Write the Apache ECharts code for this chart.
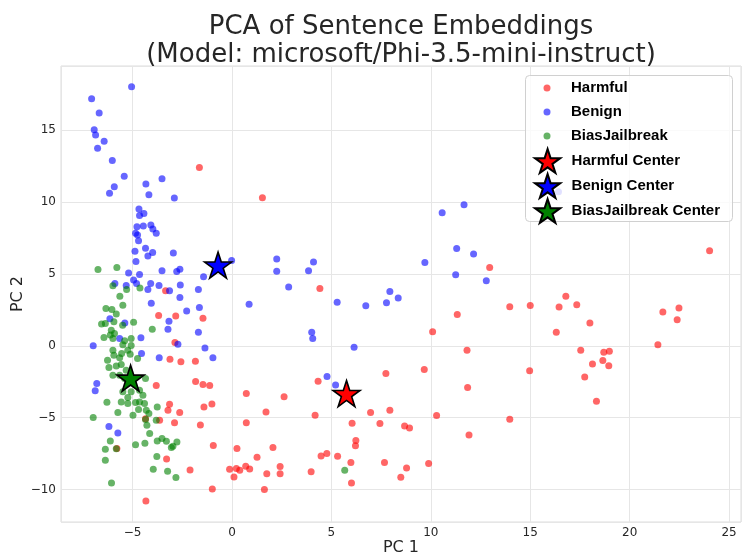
<!DOCTYPE html>
<html>
<head>
<meta charset="utf-8">
<script src="https://cdn.jsdelivr.net/npm/echarts@6/dist/echarts.min.js"></script>
<style>
  html, body { margin: 0; padding: 0; background: #fff; }
  #chart { width: 748px; height: 556px; }
</style>
</head>
<body>
<div id="chart"></div>
<script>
// PCA points, [PC1, PC2]
const harmful = [
  [-1.64, 12.42], [1.53, 10.31], [-3.34, 3.83], [-3.69, 2.12], [-2.83, 2.07], [-1.46, 1.93],
  [-2.87, 0.24], [-3.12, -0.93], [-2.57, -1.11], [-1.84, -1.07], [-3.81, -2.76], [-1.83, -2.48],
  [-1.46, -2.69], [-1.12, -2.76], [0.72, -3.32], [-3.14, -4.06], [-3.22, -4.48], [-2.63, -4.64],
  [-1.41, -4.25], [-1.01, -4.04], [-4.35, -5.08], [-3.64, -5.17], [-2.89, -5.36], [-1.59, -5.5],
  [0.72, -5.36], [-0.94, -6.94], [0.25, -7.15], [-5.79, -7.15], [1.26, -7.75], [-3.29, -7.87],
  [-2.11, -8.64], [-0.12, -8.59], [0.22, -8.54], [0.39, -8.66], [0.69, -8.38], [0.89, -8.57],
  [0.1, -9.12], [-0.99, -9.96], [-4.33, -10.79],
  [4.42, 4.0], [12.96, 5.46], [11.33, 2.19], [10.09, 0.98], [11.82, -0.3],
  [7.74, -1.92], [9.67, -1.64], [4.33, -2.46], [11.85, -2.9], [2.62, -3.55], [1.71, -4.6],
  [4.18, -4.83], [6.97, -4.64], [7.94, -4.48], [10.29, -4.85], [6.04, -5.38], [7.44, -5.41],
  [8.68, -5.57], [8.93, -5.71], [6.23, -6.59], [6.21, -6.96], [11.92, -6.2], [2.06, -7.08],
  [4.48, -7.66], [4.77, -7.49], [5.31, -7.68], [5.98, -8.12], [7.67, -8.12], [9.89, -8.19],
  [2.42, -8.4], [1.75, -8.91], [2.42, -8.91], [3.98, -8.77], [8.78, -8.5], [8.49, -9.14],
  [6.01, -9.54], [1.63, -10.0],
  [24.02, 6.62], [13.97, 2.72], [15.0, 2.81], [16.45, 2.7], [16.79, 3.46], [17.34, 2.86],
  [18.0, 1.6], [16.31, 0.95], [17.54, -0.3], [18.7, -0.44], [18.98, -0.37], [18.65, -1.02],
  [18.13, -1.27], [18.95, -1.39], [17.74, -2.16], [18.33, -3.85], [14.97, -1.74], [13.97, -5.1],
  [21.67, 2.35], [22.48, 2.63], [22.39, 1.81], [21.42, 0.07]
];

const benign = [
  [-5.05, 18.04], [-7.06, 17.2], [-6.68, 16.2], [-6.93, 15.04], [-6.86, 14.67], [-6.43, 14.25],
  [-6.76, 13.75], [-6.02, 12.91], [-5.42, 11.8], [-5.92, 11.07], [-6.16, 10.63], [-4.33, 11.26],
  [-3.52, 11.63], [-4.18, 10.52], [-2.9, 10.29], [-4.68, 9.52], [-4.43, 9.22], [-4.65, 9.08],
  [-4.78, 8.29], [-4.46, 8.34], [-4.08, 8.41], [-3.98, 8.13], [-3.81, 7.83], [-4.85, 7.83],
  [-4.75, 7.71], [-4.7, 7.31], [-4.35, 6.8], [-4.88, 6.59], [-3.99, 6.5], [-4.23, 6.25],
  [-2.95, 6.46], [-4.83, 5.88], [-3.52, 5.22], [-2.78, 5.18], [-2.62, 5.34], [-5.2, 5.08],
  [-4.65, 4.97], [-4.95, 4.58], [-5.89, 4.34], [-5.32, 4.2], [-4.8, 4.34], [-4.09, 4.34],
  [-3.67, 4.2], [-4.23, 3.93], [-3.14, 3.83], [-2.6, 4.23], [-1.43, 4.81], [-0.02, 5.95],
  [-1.69, 3.93], [-2.62, 3.37], [-4.06, 2.97], [-2.28, 2.42], [-1.64, 2.67], [0.86, 2.9],
  [-6.14, 1.88], [-5.39, 1.6], [-3.17, 1.72], [-3.22, 1.16], [-1.69, 0.95], [-5.65, 0.52],
  [-4.58, 0.56], [-6.98, 0.0], [-2.72, 0.12], [-1.36, -0.14], [-4.55, -0.53], [-3.66, -0.83],
  [-0.96, -0.83], [-6.8, -2.62], [-6.88, -3.13], [-6.19, -5.61], [-5.74, -6.06],
  [2.25, 6.04], [2.25, 5.2], [3.85, 5.22], [4.1, 5.83], [2.85, 4.09], [5.29, 3.04],
  [6.73, 2.79], [7.77, 3.0], [7.94, 3.79], [8.36, 3.34], [4.01, 0.95], [4.06, 0.51],
  [6.14, -0.09], [9.7, 5.81], [10.57, 9.26], [11.67, 9.82], [11.3, 6.78], [12.15, 6.39],
  [11.25, 4.95], [12.79, 4.53], [4.78, -2.13], [5.21, -2.72], [16.42, 10.72], [15.75, 9.1]
];

const biasJailbreak = [
  [-6.74, 5.32], [-5.79, 5.46], [-5.99, 4.18], [-5.3, 3.93], [-4.63, 4.02], [-5.64, 3.46],
  [-5.49, 2.83], [-6.34, 2.6], [-6.04, 2.53], [-5.82, 2.21], [-6.56, 1.53], [-6.37, 1.56],
  [-5.94, 1.67], [-5.5, 1.44], [-4.95, 1.65], [-4.01, 1.16], [-6.07, 1.09], [-5.91, 0.86],
  [-6.12, 0.75], [-6.44, 0.58], [-5.99, 0.52], [-5.4, 0.35], [-5.07, 0.52], [-5.49, 0.07],
  [-5.07, 0.03], [-5.24, -0.3], [-5.99, -0.3], [-5.94, -0.65], [-5.12, -0.58], [-5.55, -0.53],
  [-5.65, -0.83], [-4.75, -0.88], [-6.26, -1.0], [-5.57, -1.3], [-6.19, -1.5], [-5.82, -1.41],
  [-5.32, -1.69], [-5.99, -2.04], [-5.65, -2.04], [-5.4, -2.27], [-4.35, -2.27], [-5.49, -3.2],
  [-5.07, -3.2], [-4.65, -3.09], [-4.48, -3.43], [-5.24, -3.6], [-5.57, -3.9], [-5.24, -4.01],
  [-4.85, -3.94], [-4.4, -4.01], [-4.65, -3.9], [-6.29, -3.92], [-5.74, -4.64], [-4.98, -4.83],
  [-4.7, -4.43], [-4.31, -4.48], [-4.18, -4.71], [-3.76, -4.25], [-6.98, -4.99], [-4.35, -5.13],
  [-4.28, -5.52], [-3.81, -5.17], [-4.14, -6.1], [-6.12, -6.62], [-3.76, -6.62], [-3.52, -6.45],
  [-3.3, -6.64], [-2.77, -6.69], [-2.97, -6.98], [-3.05, -7.08], [-4.85, -6.89], [-4.38, -6.78],
  [-6.37, -7.19], [-5.82, -7.17], [-6.37, -7.96], [-3.78, -7.7], [-3.96, -8.59], [-3.24, -8.73],
  [-2.82, -9.16], [-6.06, -9.54], [5.67, -8.66]
];

const harmfulCenter = [[5.76, -3.32]];
const benignCenter = [[-0.7, 5.62]];
const biasJailbreakCenter = [[-5.1, -2.25]];

const starPath = 'path://M50,0 L61.23,34.55 L97.55,34.55 L68.16,55.9 L79.39,90.45 L50,69.1 L20.61,90.45 L31.84,55.9 L2.45,34.55 L38.77,34.55 Z';

const textColor = '#262626';
const minus = v => String(v).replace('-', '\u2212');

const chart = echarts.init(document.getElementById('chart'));

const dotSeries = (name, data, color) => ({
  name: name,
  type: 'scatter',
  data: data,
  symbol: 'circle',
  symbolSize: 7,
  itemStyle: { color: color, opacity: 0.6 },
  emphasis: { disabled: true }
});

const starSeries = (name, data, color) => ({
  name: name,
  type: 'scatter',
  data: data,
  symbol: starPath,
  symbolSize: [27, 26],
  itemStyle: { color: color, borderColor: '#000', borderWidth: 1.6, opacity: 1 },
  emphasis: { disabled: true },
  z: 5
});

const legendFont = {
  fontFamily: 'Liberation Sans, Arial, sans-serif',
  fontWeight: 'bold',
  fontSize: 15,
  color: '#000',
  lineHeight: 18
};

chart.setOption({
  animation: false,
  backgroundColor: '#fff',
  title: {
    text: 'PCA of Sentence Embeddings\n(Model: microsoft/Phi-3.5-mini-instruct)',
    left: 396,
    top: 8,
    textAlign: 'center',
    textStyle: {
      fontFamily: 'DejaVu Sans',
      fontSize: 26,
      fontWeight: 'normal',
      color: textColor,
      lineHeight: 28
    }
  },
  grid: {
    left: 61,
    right: 7,
    top: 66,
    bottom: 34,
    outerBoundsMode: 'none',
    containLabel: false,
    show: true,
    borderColor: '#dcdcdc',
    borderWidth: 1
  },
  graphic: [{
    type: 'rect',
    left: 525,
    top: 75,
    z: 3,
    shape: { width: 207, height: 146, r: 4 },
    style: { fill: 'rgba(255,255,255,0.8)', stroke: '#d0d0d0', lineWidth: 1 }
  }],
  legend: [
    {
      data: ['Harmful', 'Benign', 'BiasJailbreak'],
      orient: 'vertical',
      left: 543.5,
      top: 79,
      padding: 0,
      itemWidth: 7,
      itemHeight: 7,
      itemGap: 6,
      icon: 'circle',
      textStyle: Object.assign({ padding: [0, 0, 0, 15.5] }, legendFont),
      z: 6
    },
    {
      data: ['Harmful Center', 'Benign Center', 'BiasJailbreak Center'],
      orient: 'vertical',
      left: 534,
      top: 148,
      padding: 0,
      itemWidth: 26,
      itemHeight: 24,
      itemGap: -1,
      textStyle: Object.assign({ padding: [0, 0, 0, 6] }, legendFont),
      z: 6
    }
  ],
  xAxis: {
    type: 'value',
    min: -8.6,
    max: 25.6,
    name: 'PC 1',
    nameLocation: 'middle',
    nameGap: 18,
    nameMoveOverlap: false,
    nameTextStyle: { fontFamily: 'DejaVu Sans', fontSize: 16, color: textColor, verticalAlign: 'top' },
    axisLine: { show: false },
    axisTick: { show: false },
    axisLabel: {
      margin: 5,
      fontFamily: 'DejaVu Sans',
      fontSize: 12,
      color: textColor,
      showMinLabel: false,
      showMaxLabel: false,
      formatter: minus
    },
    splitLine: { show: true, lineStyle: { color: '#e6e6e6', width: 1 } }
  },
  yAxis: {
    type: 'value',
    min: -12.26,
    max: 19.48,
    name: 'PC 2',
    nameLocation: 'middle',
    nameGap: 35,
    nameMoveOverlap: false,
    nameTextStyle: { fontFamily: 'DejaVu Sans', fontSize: 16, color: textColor },
    axisLine: { show: false },
    axisTick: { show: false },
    axisLabel: {
      margin: 5,
      fontFamily: 'DejaVu Sans',
      fontSize: 12,
      color: textColor,
      showMinLabel: false,
      showMaxLabel: false,
      formatter: minus
    },
    splitLine: { show: true, lineStyle: { color: '#e6e6e6', width: 1 } }
  },
  series: [
    dotSeries('Harmful', harmful, '#ff0000'),
    dotSeries('Benign', benign, '#0000ff'),
    dotSeries('BiasJailbreak', biasJailbreak, '#008000'),
    starSeries('Harmful Center', harmfulCenter, '#ff0000'),
    starSeries('Benign Center', benignCenter, '#0000ff'),
    starSeries('BiasJailbreak Center', biasJailbreakCenter, '#008000')
  ]
});
</script>
</body>
</html>
